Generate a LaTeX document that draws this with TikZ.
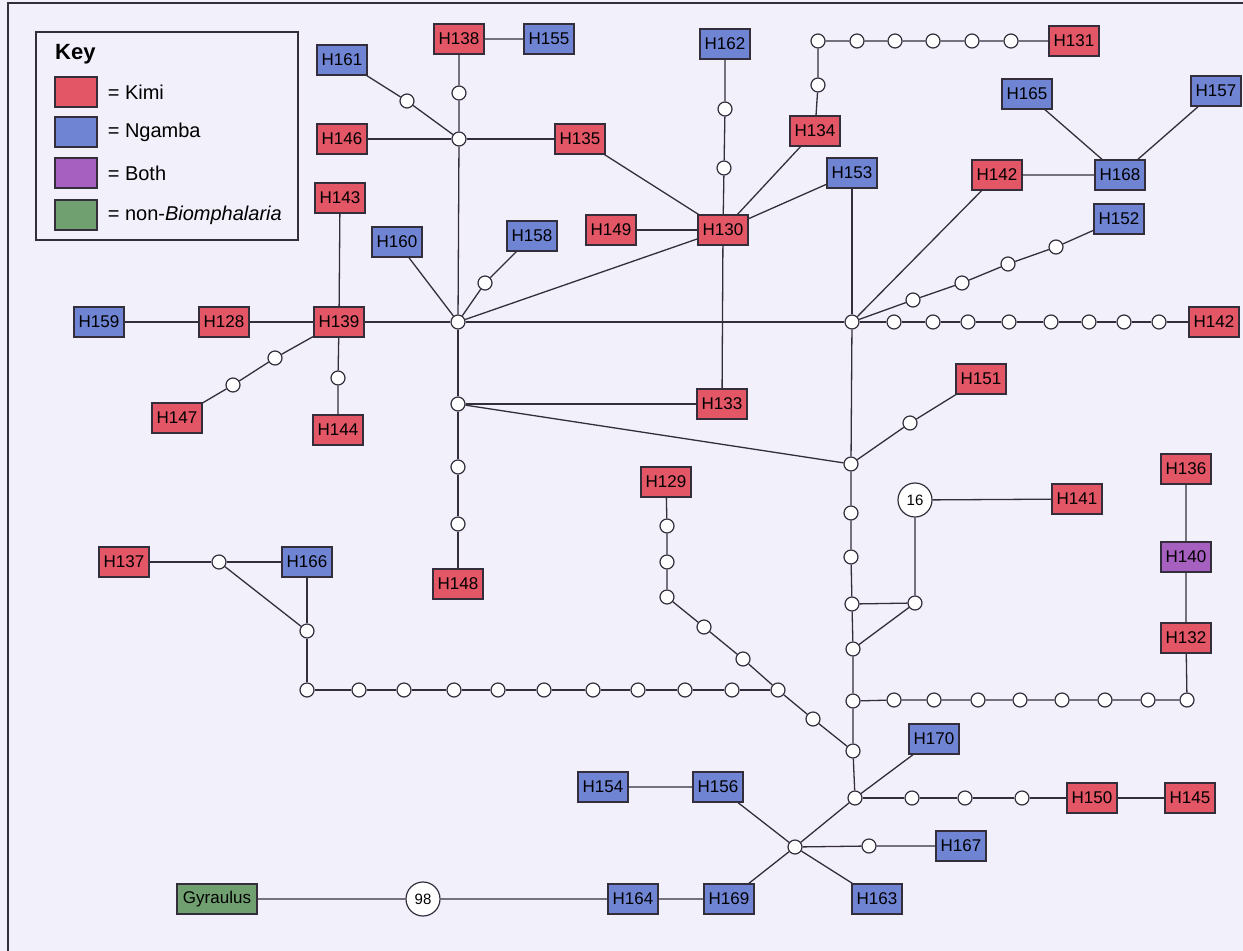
\documentclass[tikz,border=0pt]{standalone}
\usepackage{fontspec}
\setmainfont{Liberation Sans}
\usepackage{xcolor}
\usetikzlibrary{positioning}
\definecolor{kimired}{RGB}{226,86,102}
\definecolor{ngablue}{RGB}{112,132,212}
\definecolor{bothpur}{RGB}{166,96,192}
\definecolor{nonbio}{RGB}{112,160,112}
\definecolor{paper}{RGB}{242,240,250}
\definecolor{ink}{RGB}{52,46,60}

\begin{document}
\begin{tikzpicture}[x=1pt, y=-1pt,
    hap/.style={rectangle, draw=ink, line width=1.2pt, minimum width=50pt, minimum height=30pt, inner sep=1pt, font=\fontsize{17}{19}\selectfont},
    kimi/.style={hap, fill=kimired},
    ngamba/.style={hap, fill=ngablue},
    both/.style={hap, fill=bothpur},
    outgroup/.style={hap, fill=nonbio, minimum width=80pt},
    dot/.style={circle, draw=ink, line width=1.2pt, fill=white, minimum size=14pt, inner sep=0pt},
    big/.style={circle, draw=ink, line width=1.2pt, fill=white, minimum size=34pt, inner sep=0pt, font=\fontsize{15}{18}\selectfont},
    edge/.style={draw=ink, line width=1.3pt},
    swatch/.style={rectangle, draw=ink, line width=1.2pt, minimum width=42pt, minimum height=30pt},
    keytext/.style={font=\fontsize{20}{24}\selectfont, inner sep=0pt}
]
\useasboundingbox (0,0) rectangle (1243,951);
\fill[paper] (0,0) rectangle (1243,951);
\draw[ink, line width=1.2pt] (8,951) -- (8,3) -- (1243,3);

% Key
\node[draw=ink, line width=1.2pt, minimum width=262pt, minimum height=208pt] (key) at (167,136) {};
\node[font=\fontsize{22}{26}\selectfont\bfseries, anchor=west, inner sep=0pt] (keytitle) at (55,54) {Key};
\node[swatch, fill=kimired] (swk) at (76,92) {};
\node[swatch, fill=ngablue] (swn) at (76,132) {};
\node[swatch, fill=bothpur] (swb) at (76,173) {};
\node[swatch, fill=nonbio] (swg) at (76,215) {};
\node[keytext, right=10pt of swk] {= Kimi};
\node[keytext, right=10pt of swn] {= Ngamba};
\node[keytext, right=10pt of swb] {= Both};
\node[keytext, right=10pt of swg] {= non-\textit{Biomphalaria}};

% Haplotypes
\node[kimi] (h138) at (459,39) {H138};
\node[ngamba] (h155) at (549,39) {H155};
\node[ngamba] (h161) at (342,60) {H161};
\node[kimi] (h146) at (342,139) {H146};
\node[kimi] (h143) at (340,198) {H143};
\node[ngamba] (h160) at (397,242) {H160};
\node[ngamba] (h158) at (532,236) {H158};
\node[kimi] (h135) at (580,139) {H135};
\node[kimi] (h149) at (611,230) {H149};
\node[kimi] (h130) at (723,230) {H130};
\node[ngamba] (h162) at (725,44) {H162};
\node[kimi] (h134) at (815,131) {H134};
\node[kimi] (h131) at (1074,41) {H131};
\node[ngamba] (h153) at (852,173) {H153};
\node[kimi] (h142a) at (997,175) {H142};
\node[ngamba] (h168) at (1120,175) {H168};
\node[ngamba] (h165) at (1027,94) {H165};
\node[ngamba] (h157) at (1216,91) {H157};
\node[ngamba] (h152) at (1119,219) {H152};
\node[kimi] (h142b) at (1214,322) {H142};
\node[ngamba] (h159) at (99,322) {H159};
\node[kimi] (h128) at (224,322) {H128};
\node[kimi] (h139) at (339,322) {H139};
\node[kimi] (h147) at (177,418) {H147};
\node[kimi] (h144) at (338,430) {H144};
\node[kimi] (h133) at (722,404) {H133};
\node[kimi] (h151) at (981,379) {H151};
\node[kimi] (h129) at (666,482) {H129};
\node[kimi] (h148) at (458,584) {H148};
\node[kimi] (h137) at (124,562) {H137};
\node[ngamba] (h166) at (307,562) {H166};
\node[kimi] (h141) at (1077,499) {H141};
\node[kimi] (h136) at (1186,469) {H136};
\node[both] (h140) at (1186,557) {H140};
\node[kimi] (h132) at (1186,638) {H132};
\node[ngamba] (h170) at (934,739) {H170};
\node[kimi] (h150) at (1092,798) {H150};
\node[kimi] (h145) at (1190,798) {H145};
\node[ngamba] (h167) at (961,846) {H167};
\node[ngamba] (h163) at (877,899) {H163};
\node[ngamba] (h154) at (603,787) {H154};
\node[ngamba] (h156) at (718,787) {H156};
\node[ngamba] (h169) at (729,899) {H169};
\node[ngamba] (h164) at (633,899) {H164};
\node[outgroup] (gyr) at (217,899) {Gyraulus};
\node[big] (n16) at (915,500) {16};
\node[big] (n98) at (423,899) {98};

% Median vectors
\node[dot] (j1) at (458,322) {};
\node[dot] (j2) at (459,139) {};
\node[dot] (j3) at (852,322) {};
\node[dot] (j4) at (458,404) {};
\node[dot] (j5) at (851,464) {};
\node[dot] (j6) at (852,604) {};
\node[dot] (j7) at (853,649) {};
\node[dot] (j8) at (853,701) {};
\node[dot] (j9) at (853,751) {};
\node[dot] (j10) at (855,798) {};
\node[dot] (j11) at (795,847) {};
\node[dot] (jl) at (778,690) {};
\node[dot] (c16) at (915,603) {};
\node[dot] (kc) at (307,631) {};
\node[dot] (kb) at (307,690) {};
\node[dot] (k137) at (219,562) {};
\node[dot] (ta) at (818,41) {};
\node[dot] (tb) at (1187,700) {};

% Mutation steps
\node[dot] (m138) at (459,93) {};
\node[dot] (m161) at (407,101) {};
\node[dot] (m158) at (485,283) {};
\node[dot] (m144) at (338,378) {};
\node[dot] (m147a) at (275,358) {};
\node[dot] (m147b) at (233,385) {};
\node[dot] (m148a) at (458,467) {};
\node[dot] (m148b) at (458,524) {};
\node[dot] (m162a) at (724,168) {};
\node[dot] (m162b) at (725,109) {};
\node[dot] (m134) at (818,85) {};
\node[dot] (m151) at (910,423) {};
\node[dot] (s1) at (851,513) {};
\node[dot] (s2) at (851,557) {};
\node[dot] (m167) at (869,846) {};
\foreach \x [count=\i] in {857,895,933,972,1011}
    \node[dot] (t\i) at (\x,41) {};
\foreach \x/\y [count=\i] in {913/300,962/283,1008/264,1056/247}
    \node[dot] (p\i) at (\x,\y) {};
\foreach \x [count=\i] in {894,933,968,1009,1051,1089,1124,1159}
    \node[dot] (r\i) at (\x,322) {};
\foreach \x [count=\i] in {894,934,978,1020,1062,1105,1148}
    \node[dot] (b\i) at (\x,700) {};
\foreach \x/\y [count=\i] in {667/526,667/562,667/597,704/627,743/659}
    \node[dot] (q\i) at (\x,\y) {};
\node[dot] (q6) at (813,719) {};
\foreach \x [count=\i] in {732,685,638,593,544,498,454,404,359}
    \node[dot] (l\i) at (\x,690) {};
\foreach \x [count=\i] in {912,965,1022}
    \node[dot] (e\i) at (\x,798) {};

% Left cluster
\draw[edge] (h159) -- (h128) -- (h139) -- (j1) -- (j3);
\draw[edge] (h143) -- (h139);
\draw[edge] (h139) -- (m144) -- (h144);
\draw[edge] (h139) -- (m147a) -- (m147b) -- (h147);
\draw[edge] (j1) -- (h160);
\draw[edge] (j1) -- (m158) -- (h158);
\draw[edge] (j1) -- (h130);
\draw[edge] (j1) -- (j2) -- (m138) -- (h138) -- (h155);
\draw[edge] (j2) -- (h146);
\draw[edge] (j2) -- (h135);
\draw[edge] (j2) -- (m161) -- (h161);
\draw[edge] (j1) -- (j4) -- (h133);
\draw[edge] (j4) -- (j5);
\draw[edge] (j4) -- (m148a) -- (m148b) -- (h148);

% H130 star
\draw[edge] (h130) -- (h135);
\draw[edge] (h130) -- (h149);
\draw[edge] (h130) -- (h134);
\draw[edge] (h130) -- (h153);
\draw[edge] (h130) -- (h133);
\draw[edge] (h130) -- (m162a) -- (m162b) -- (h162);
\draw[edge] (h134) -- (m134) -- (ta) -- (t1) -- (t2) -- (t3) -- (t4) -- (t5) -- (h131);

% Upper right
\draw[edge] (j3) -- (h153);
\draw[edge] (j3) -- (h142a) -- (h168);
\draw[edge] (h168) -- (h165);
\draw[edge] (h168) -- (h157);
\draw[edge] (j3) -- (p1) -- (p2) -- (p3) -- (p4) -- (h152);
\draw[edge] (j3) -- (r1) -- (r2) -- (r3) -- (r4) -- (r5) -- (r6) -- (r7) -- (r8) -- (h142b);

% Spine
\draw[edge] (j3) -- (j5) -- (s1) -- (s2) -- (j6) -- (j7) -- (j8) -- (j9) -- (j10);
\draw[edge] (j5) -- (m151) -- (h151);
\draw[edge] (n16) -- (h141);
\draw[edge] (n16) -- (c16) -- (j6);
\draw[edge] (c16) -- (j7);
\draw[edge] (h136) -- (h140) -- (h132) -- (tb);
\draw[edge] (j8) -- (b1) -- (b2) -- (b3) -- (b4) -- (b5) -- (b6) -- (b7) -- (tb);
\draw[edge] (h129) -- (q1) -- (q2) -- (q3) -- (q4) -- (q5) -- (jl) -- (q6) -- (j9);
\draw[edge] (jl) -- (l1) -- (l2) -- (l3) -- (l4) -- (l5) -- (l6) -- (l7) -- (l8) -- (l9) -- (kb) -- (kc) -- (h166);
\draw[edge] (kc) -- (k137);
\draw[edge] (h137) -- (k137) -- (h166);

% Lower right
\draw[edge] (j10) -- (h170);
\draw[edge] (j10) -- (e1) -- (e2) -- (e3) -- (h150) -- (h145);
\draw[edge] (j10) -- (j11);
\draw[edge] (j11) -- (m167) -- (h167);
\draw[edge] (j11) -- (h163);
\draw[edge] (j11) -- (h156) -- (h154);
\draw[edge] (j11) -- (h169) -- (h164) -- (n98) -- (gyr);

\end{tikzpicture}
\end{document}
